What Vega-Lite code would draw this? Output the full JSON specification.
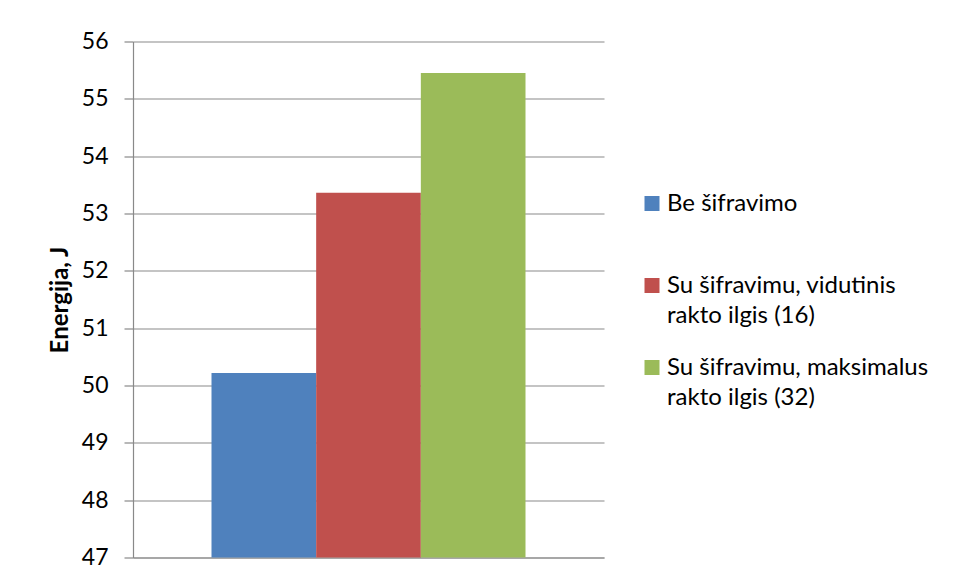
{
  "$schema": "https://vega.github.io/schema/vega-lite/v6.json",
  "width": 471,
  "height": 516,
  "autosize": {"type": "none"},
  "padding": {"left": 133, "top": 41.5, "right": 351, "bottom": 23.5},
  "background": "white",
  "data": {
    "values": [
      {"serija": "Be šifravimo", "energija": 50.22},
      {"serija": "Su šifravimu, vidutinis rakto ilgis (16)", "energija": 53.36},
      {"serija": "Su šifravimu, maksimalus rakto ilgis (32)", "energija": 55.45}
    ]
  },
  "mark": {"type": "bar", "clip": true},
  "encoding": {
    "x": {
      "field": "serija",
      "type": "nominal",
      "sort": null,
      "scale": {"paddingInner": 0, "paddingOuter": 0.75},
      "axis": {"labels": false, "ticks": false, "title": null, "domainColor": "#898989", "domainWidth": 1.2}
    },
    "y": {
      "field": "energija",
      "type": "quantitative",
      "scale": {"domain": [47, 56], "zero": false, "nice": false},
      "axis": {
        "title": "Energija, J",
        "titleFont": "Lato",
        "titleFontSize": 24,
        "titleFontWeight": "bold",
        "titleColor": "#000000",
        "titlePadding": 9,
        "values": [47, 48, 49, 50, 51, 52, 53, 54, 55, 56],
        "labelFont": "Lato",
        "labelFontSize": 23,
        "labelColor": "#000000",
        "labelPadding": 16,
        "tickSize": 9,
        "tickColor": "#898989",
        "tickWidth": 1.2,
        "domainColor": "#898989",
        "domainWidth": 1.2,
        "grid": true,
        "gridColor": "#898989",
        "gridWidth": 1.2
      }
    },
    "color": {
      "field": "serija",
      "type": "nominal",
      "sort": null,
      "scale": {
        "domain": ["Be šifravimo", "Su šifravimu, vidutinis rakto ilgis (16)", "Su šifravimu, maksimalus rakto ilgis (32)"],
        "range": ["#4F81BD", "#C0504D", "#9BBB59"]
      },
      "legend": {
        "title": null,
        "orient": "none",
        "legendX": 507,
        "legendY": 150,
        "padding": 0,
        "symbolType": "square",
        "symbolSize": 225,
        "symbolStrokeWidth": 0,
        "labelFont": "Lato",
        "labelFontSize": 24,
        "labelColor": "#000000",
        "labelLimit": 400,
        "labelOffset": 3,
        "rowPadding": 28,
        "labelExpr": "indexof(datum.label, ' rakto') > 0 ? [substring(datum.label, 0, indexof(datum.label, ' rakto')), substring(datum.label, indexof(datum.label, ' rakto') + 1)] : [datum.label, ' ']"
      }
    }
  },
  "config": {
    "view": {"stroke": null},
    "style": {"guide-label": {"lineHeight": 30}}
  }
}
